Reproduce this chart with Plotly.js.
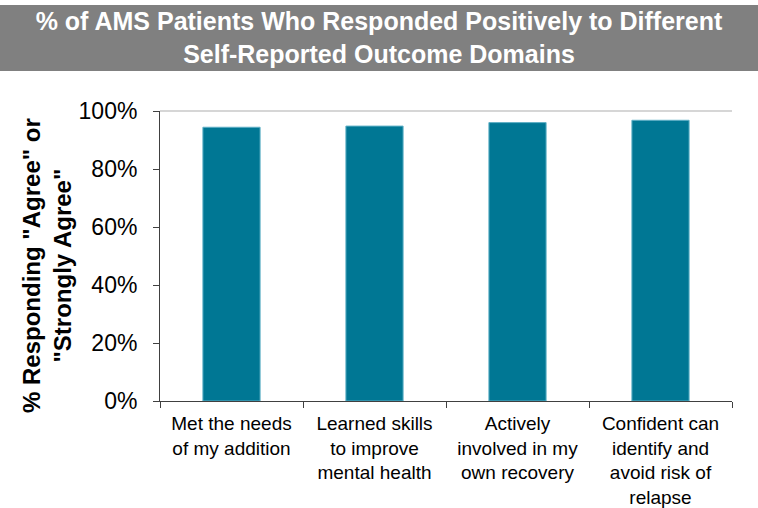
<!DOCTYPE html>
<html>
<head>
<meta charset="utf-8">
<script src="https://cdn.plot.ly/plotly-3.0.1.min.js"></script>
<style>html,body{margin:0;padding:0;background:#fff;}#chart{width:758px;height:508px;}</style>
</head>
<body>
<div id="chart"></div>
<script>
var categories = [
  "Met the needs<br>of my addition",
  "Learned skills<br>to improve<br>mental health",
  "Actively<br>involved in my<br>own recovery",
  "Confident can<br>identify and<br>avoid risk of<br>relapse"
];
var values = [0.944, 0.948, 0.960, 0.968];
var yTickVals = [0, 0.2, 0.4, 0.6, 0.8, 1.0];
var yTickText = ["0%", "20%", "40%", "60%", "80%", "100%"];
var chartTitle = "% of AMS Patients Who Responded Positively to Different<br>Self-Reported Outcome Domains";
var yTitle = "% Responding \"Agree\" or<br>\"Strongly Agree\"";

var font = "Arial, 'Liberation Sans', sans-serif";

var trace = {
  type: "bar",
  x: categories,
  y: values,
  marker: {color: "#007794", line: {color: "#5fb0c6", width: 1}},
  width: 0.4,
  hoverinfo: "none"
};

var layout = {
  width: 758, height: 508,
  margin: {l: 160, r: 26, t: 111, b: 107, pad: 0},
  paper_bgcolor: "#ffffff",
  plot_bgcolor: "#ffffff",
  showlegend: false,
  font: {family: font, color: "#000000", size: 20},
  title: {
    text: chartTitle,
    font: {family: font, size: 25, color: "#ffffff", weight: "bold"},
    x: 0.5, xref: "container", xanchor: "center",
    y: 1 - 30/508, yref: "container", yanchor: "middle"
  },
  xaxis: {
    type: "category",
    showline: true, linecolor: "#404040", linewidth: 1,
    ticks: "outside", tickson: "boundaries", ticklen: 6, tickcolor: "#404040", tickwidth: 1,
    ticklabelstandoff: 5,
    showgrid: false, zeroline: false,
    tickfont: {family: font, size: 19, color: "#000000"},
    fixedrange: true
  },
  yaxis: {
    range: [0, 1],
    tickvals: yTickVals, ticktext: yTickText,
    showline: true, linecolor: "#404040", linewidth: 1,
    ticks: "outside", ticklen: 6, tickcolor: "#404040", tickwidth: 1,
    ticklabelstandoff: 11,
    showgrid: false, zeroline: false,
    tickfont: {family: font, size: 23, color: "#000000"},
    fixedrange: true
  },
  shapes: [
    {type: "rect", xref: "paper", yref: "paper",
     x0: -160/572, x1: 598/572, y0: (401-71)/290, y1: (401-5)/290,
     fillcolor: "#808080", line: {width: 0}, layer: "below"},
    {type: "line", xref: "paper", yref: "paper",
     x0: 0, x1: 1, y0: 1, y1: 1,
     line: {color: "#c8c8c8", width: 1.5}, layer: "below"}
  ],
  annotations: [
    {text: yTitle, xref: "paper", yref: "paper",
     x: (47-160)/572, y: (401-266)/290, xanchor: "center", yanchor: "middle",
     textangle: -90, showarrow: false,
     font: {family: font, size: 24, color: "#000000", weight: "bold"}}
  ]
};

Plotly.newPlot("chart", [trace], layout, {displayModeBar: false, staticPlot: true});
</script>
</body>
</html>
